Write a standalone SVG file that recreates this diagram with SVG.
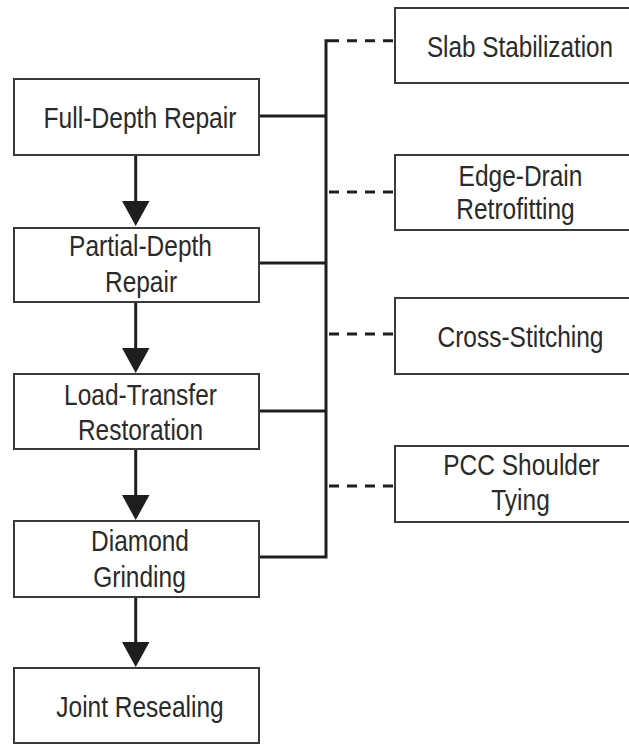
<svg xmlns="http://www.w3.org/2000/svg" width="629" height="744" viewBox="0 0 629 744">
<style>
.box{fill:#fff;stroke:#3a3a3a;stroke-width:2}
.t{font-family:"Liberation Sans",Arial,sans-serif;font-size:29.5px;fill:#2a2a2a;text-anchor:middle}
.ln{fill:none;stroke:#1e1e1e;stroke-width:3}
.dash{fill:none;stroke:#1e1e1e;stroke-width:3;stroke-dasharray:10 8}
.ah{fill:#1e1e1e}
</style>
<rect width="629" height="744" fill="#fff"/>
<g id="connectors">
<path class="ln" d="M259 116H326M259 263H326M259 411H326M259 557H326V40.7H329"/>
<path class="dash" d="M329 40.7H395M329 192H395M329 334H395M329 486H395"/>
<path class="ln" d="M135.7 155V202M135.7 302V349M135.7 449V496M135.7 597V644"/>
<polygon class="ah" points="122,201 149.5,201 135.7,226"/>
<polygon class="ah" points="122,348 149.5,348 135.7,373"/>
<polygon class="ah" points="122,495 149.5,495 135.7,520"/>
<polygon class="ah" points="122,642 149.5,642 135.7,667"/>
</g>
<g id="full-depth-repair"><rect class="box" x="14" y="79" width="245" height="76"/><text class="t" transform="translate(140 128) scale(0.835 1)">Full-Depth Repair</text></g>
<g id="partial-depth-repair"><rect class="box" x="14" y="228" width="245" height="74"/><text class="t" transform="translate(140.5 256) scale(0.83 1)">Partial-Depth</text><text class="t" transform="translate(141 292) scale(0.83 1)">Repair</text></g>
<g id="load-transfer-restoration"><rect class="box" x="14" y="374" width="245" height="75"/><text class="t" transform="translate(140.5 405) scale(0.83 1)">Load-Transfer</text><text class="t" transform="translate(140.5 440) scale(0.83 1)">Restoration</text></g>
<g id="diamond-grinding"><rect class="box" x="14" y="521" width="245" height="76"/><text class="t" transform="translate(140 551) scale(0.83 1)">Diamond</text><text class="t" transform="translate(139.5 587) scale(0.83 1)">Grinding</text></g>
<g id="joint-resealing"><rect class="box" x="14" y="668" width="245" height="75"/><text class="t" transform="translate(140 717) scale(0.83 1)">Joint Resealing</text></g>
<g id="slab-stabilization"><rect class="box" x="395" y="8" width="260" height="75"/><text class="t" transform="translate(520 57) scale(0.823 1)">Slab Stabilization</text></g>
<g id="edge-drain-retrofitting"><rect class="box" x="395" y="155" width="260" height="75"/><text class="t" transform="translate(520.5 186) scale(0.83 1)">Edge-Drain</text><text class="t" transform="translate(515.5 219) scale(0.83 1)">Retrofitting</text></g>
<g id="cross-stitching"><rect class="box" x="395" y="298" width="260" height="76"/><text class="t" transform="translate(520.5 347) scale(0.83 1)">Cross-Stitching</text></g>
<g id="pcc-shoulder-tying"><rect class="box" x="395" y="446" width="260" height="76"/><text class="t" transform="translate(521.5 475) scale(0.83 1)">PCC Shoulder</text><text class="t" transform="translate(520.5 510) scale(0.83 1)">Tying</text></g>
</svg>
